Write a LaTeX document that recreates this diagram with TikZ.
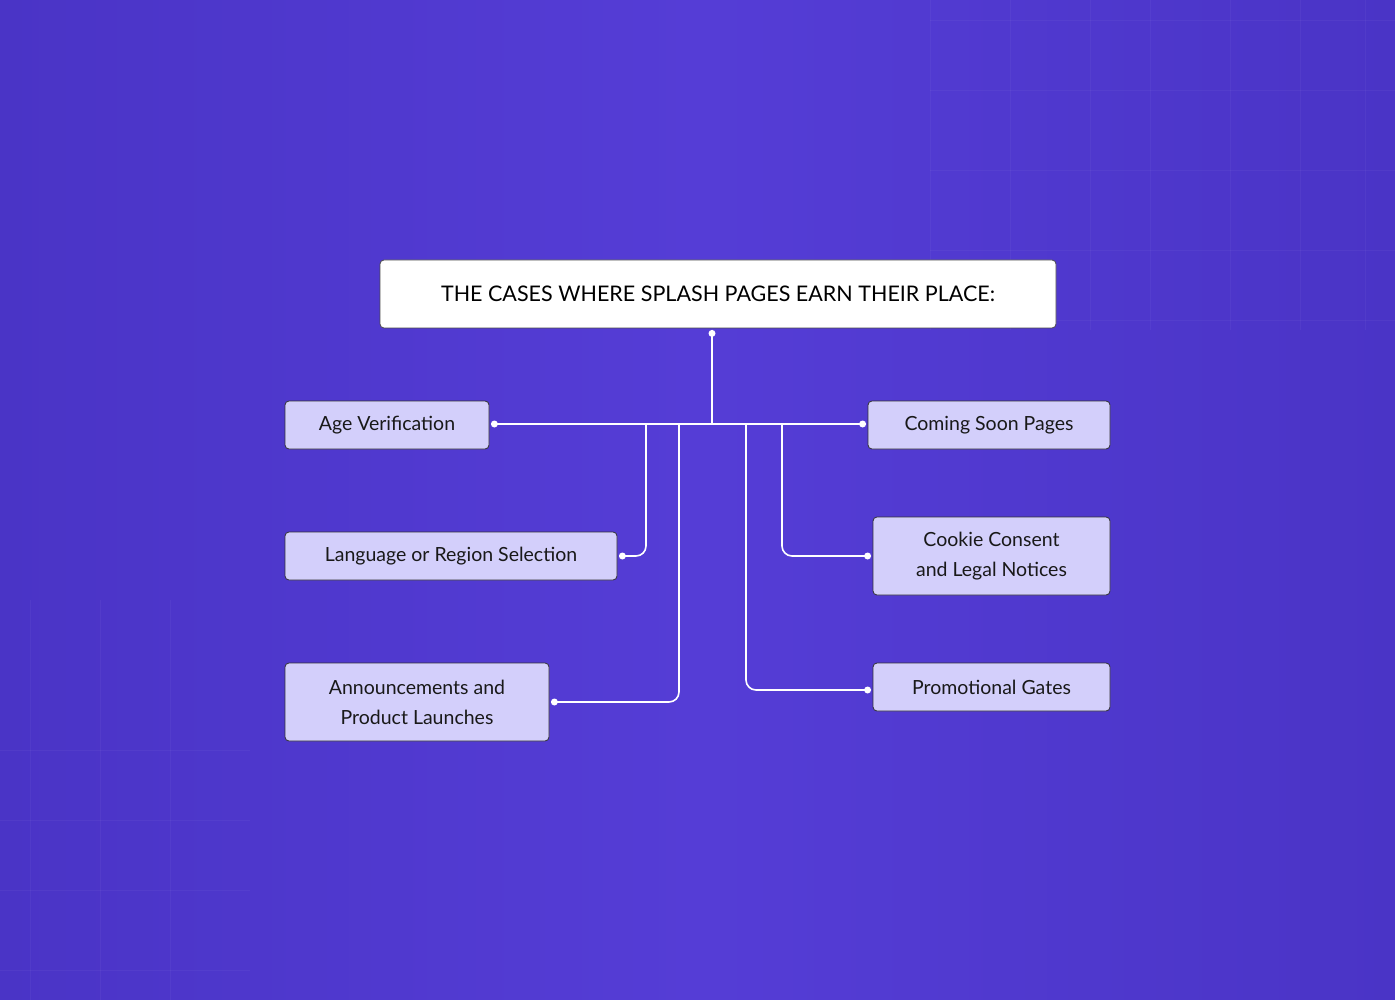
\documentclass[tikz,border=0pt]{standalone}
\usepackage{fontspec}
\setmainfont{Lato}
\begin{document}
\begin{tikzpicture}[x=1pt,y=-1pt,
  box/.style={draw=black!80,line width=0.8pt,fill=boxc,rounded corners=4pt,inner sep=0pt,align=center,font=\fontsize{19.5}{30}\selectfont,text=black!90},
  wire/.style={draw=white,line width=1.6pt,rounded corners=10pt},
  dot/.style={circle,fill=white,inner sep=0pt,minimum size=7pt}]
\definecolor{bgA}{HTML}{4A34C6}
\definecolor{bgB}{HTML}{553DD6}
\definecolor{boxc}{HTML}{D3CFFB}
\useasboundingbox (0,0) rectangle (1395,1000);
\shade[left color=bgA,right color=bgA,middle color=bgB] (0,0) rectangle (1395,1000);
\foreach \x in {930,1010,1090,1150,1230,1300,1365} \draw[white,opacity=0.04] (\x,0) -- (\x,330);
\foreach \y in {20,90,170,250,320} \draw[white,opacity=0.04] (930,\y) -- (1395,\y);
\foreach \x in {30,100,170} \draw[white,opacity=0.04] (\x,600) -- (\x,1000);
\foreach \y in {750,820,890,970} \draw[white,opacity=0.04] (0,\y) -- (250,\y);
\node[box,draw=black!70,fill=white,minimum width=676pt,minimum height=68pt,font=\fontsize{21.5}{26}\selectfont,text=black] (t) at (718,294) {THE CASES WHERE SPLASH PAGES EARN THEIR PLACE:};
\node[box,minimum width=204pt,minimum height=48pt] (a) at (387,425) {Age Verification};
\node[box,minimum width=332pt,minimum height=48pt] (l) at (451,556) {Language or Region Selection};
\node[box,minimum width=264pt,minimum height=78pt] (p) at (417,702) {Announcements and\\Product Launches};
\node[box,minimum width=242pt,minimum height=48pt] (c) at (989,425) {Coming Soon Pages};
\node[box,minimum width=237pt,minimum height=78pt] (k) at (991.5,556) {Cookie Consent\\and Legal Notices};
\node[box,minimum width=237pt,minimum height=48pt] (g) at (991.5,687) {Promotional Gates};
\coordinate (j) at (712,424);
\draw[wire] (t.south -| j) ++(0,5) coordinate (ts) -- (j);
\draw[wire,rounded corners=0pt] ([xshift=5pt]a.east |- j) coordinate (ae) -- ([xshift=-5pt]c.west |- j) coordinate (ce);
\draw[wire] (646,424) -- (646,556) -- ([xshift=5pt]l.east) coordinate (le);
\draw[wire] (679,424) -- (679,702) -- ([xshift=5pt]p.east) coordinate (pe);
\draw[wire] (746,424) -- (746,690) -- ([xshift=-5pt]g.west |- 0,690) coordinate (ge);
\draw[wire] (782,424) -- (782,556) -- ([xshift=-5pt]k.west) coordinate (ke);
\foreach \n in {ts,ae,ce,le,pe,ge,ke} \node[dot] at (\n) {};
\end{tikzpicture}
\end{document}
